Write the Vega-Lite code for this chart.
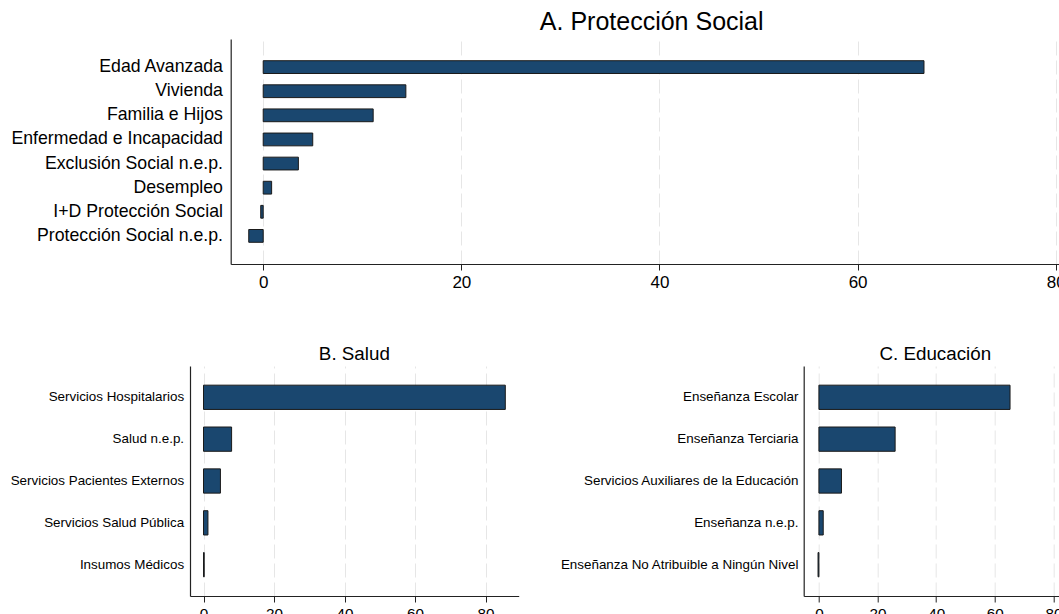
{
  "$schema": "https://vega.github.io/schema/vega-lite/v6.json",
  "padding": {"left": 10, "top": 10, "right": 0, "bottom": 0},
  "background": "white",
  "config": {
    "font": "Liberation Sans",
    "view": {"stroke": null},
    "axis": {"domainColor": "#222222", "tickColor": "#222222", "labelColor": "#000000", "gridColor": "#e6e6e6", "gridDash": [14, 5], "gridWidth": 1, "domainWidth": 1.2, "title": null, "labelFont": "Liberation Sans"},
    "axisY": {"grid": false, "ticks": false},
    "title": {"color": "#000000", "fontWeight": "normal", "anchor": "middle", "font": "Liberation Sans"},
    "bar": {"fill": "#1a476f", "stroke": "#1a1a1a", "strokeWidth": 1}
  },
  "datasets": {
    "proteccion": [
      {"categoria": "Edad Avanzada", "valor": 66.7},
      {"categoria": "Vivienda", "valor": 14.4},
      {"categoria": "Familia e Hijos", "valor": 11.1},
      {"categoria": "Enfermedad e Incapacidad", "valor": 5.0},
      {"categoria": "Exclusión Social n.e.p.", "valor": 3.55},
      {"categoria": "Desempleo", "valor": 0.85},
      {"categoria": "I+D Protección Social", "valor": -0.25},
      {"categoria": "Protección Social n.e.p.", "valor": -1.46}
    ],
    "salud": [
      {"categoria": "Servicios Hospitalarios", "valor": 85.6},
      {"categoria": "Salud n.e.p.", "valor": 7.97},
      {"categoria": "Servicios Pacientes Externos", "valor": 4.8},
      {"categoria": "Servicios Salud Pública", "valor": 1.26},
      {"categoria": "Insumos Médicos", "valor": 0.2}
    ],
    "educacion": [
      {"categoria": "Enseñanza Escolar", "valor": 65.2},
      {"categoria": "Enseñanza Terciaria", "valor": 26.0},
      {"categoria": "Servicios Auxiliares de la Educación", "valor": 7.7},
      {"categoria": "Enseñanza n.e.p.", "valor": 1.47},
      {"categoria": "Enseñanza No Atribuible a Ningún Nivel", "valor": -0.3}
    ]
  },
  "spacing": 55,
  "vconcat": [
    {
      "width": 923.4,
      "height": 225,
      "title": {"text": "A. Protección Social", "fontSize": 25, "offset": 4},
      "data": {"name": "proteccion"},
      "mark": {"type": "bar"},
      "encoding": {
        "y": {"field": "categoria", "type": "nominal", "sort": null, "scale": {"paddingInner": 0.47, "paddingOuter": 0.9}, "axis": {"labelFontSize": 17.7, "labelPadding": 8.3, "labelLimit": 400, "offset": -40.7}},
        "x": {"field": "valor", "type": "quantitative", "scale": {"domain": [-7.39, 85.82], "nice": false}, "axis": {"values": [0, 20, 40, 60, 80], "grid": true, "labelFontSize": 17, "tickSize": 6, "labelPadding": 4, "domainDash": [0, 40.7, 5000, 1]}}
      }
    },
    {
      "spacing": 40.7,
      "hconcat": [
        {
          "width": 328.7,
          "height": 230,
          "title": {"text": "B. Salud", "fontSize": 18.8, "offset": 2},
          "data": {"name": "salud"},
          "mark": {"type": "bar"},
          "encoding": {
            "y": {"field": "categoria", "type": "nominal", "sort": null, "scale": {"paddingInner": 0.42, "paddingOuter": 0.458}, "axis": {"labelFontSize": 13.4, "labelPadding": 6.4, "labelLimit": 400}},
            "x": {"field": "valor", "type": "quantitative", "scale": {"domain": [-3.83, 89.4], "nice": false}, "axis": {"values": [0, 20, 40, 60, 80], "grid": true, "labelFontSize": 15.3, "tickSize": 6, "labelPadding": 4}}
          }
        },
        {
          "width": 263.2,
          "height": 230,
          "title": {"text": "C. Educación", "fontSize": 18.8, "offset": 2},
          "data": {"name": "educacion"},
          "mark": {"type": "bar"},
          "encoding": {
            "y": {"field": "categoria", "type": "nominal", "sort": null, "scale": {"paddingInner": 0.42, "paddingOuter": 0.458}, "axis": {"labelFontSize": 13.4, "labelPadding": 5.8, "labelLimit": 400}},
            "x": {"field": "valor", "type": "quantitative", "scale": {"domain": [-5.19, 84.6], "nice": false}, "axis": {"values": [0, 20, 40, 60, 80], "grid": true, "labelFontSize": 15.3, "tickSize": 6, "labelPadding": 4}}
          }
        }
      ]
    }
  ]
}
